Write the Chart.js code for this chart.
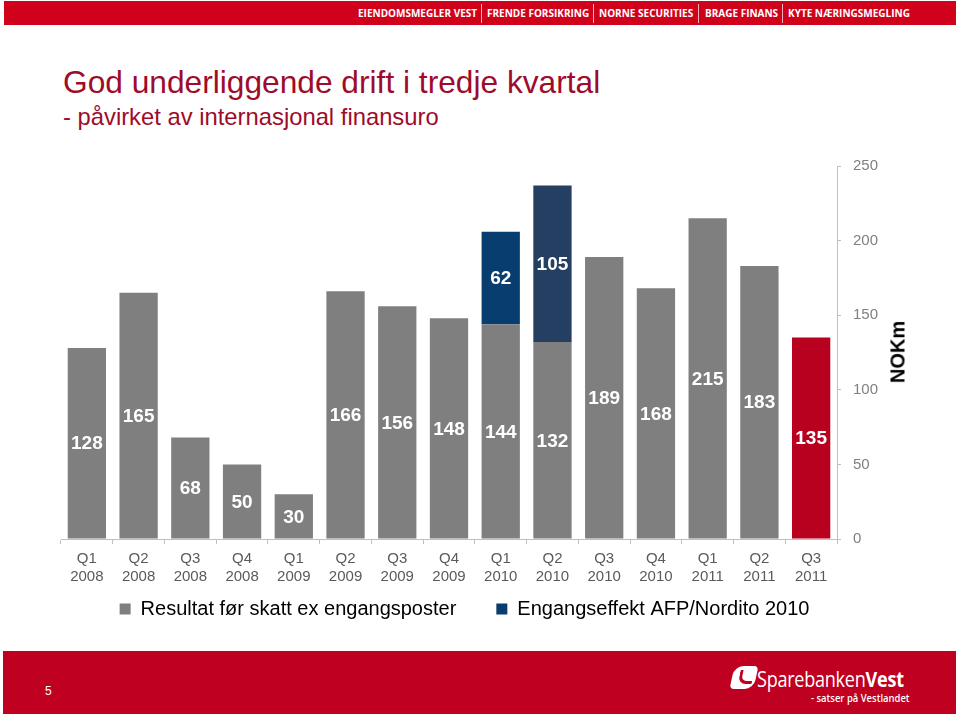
<!DOCTYPE html>
<html><head><meta charset="utf-8">
<script src="https://cdn.jsdelivr.net/npm/chart.js@4/dist/chart.umd.min.js"></script>
<style>
html,body{margin:0;padding:0;background:#fff;}
body{width:960px;height:716px;position:relative;overflow:hidden;font-family:Arial,"Liberation Sans",sans-serif;}
#header{position:absolute;left:4px;top:1px;width:952px;height:24px;background:#d0021b;}
.hd{position:absolute;top:0;height:24px;line-height:25px;color:#fff;font-weight:bold;font-size:10px;font-family:"Open Sans",Arial,sans-serif;white-space:nowrap;}
.sep{position:absolute;top:3px;width:1px;height:19px;background:#f3b0b8;}
#title{position:absolute;left:63px;top:64px;font-size:31.7px;line-height:36px;color:#9e0b2b;white-space:nowrap;}
#subtitle{position:absolute;left:63px;top:103px;font-size:23.8px;line-height:28px;color:#9e0b2b;white-space:nowrap;}
#chartbox{position:absolute;left:40px;top:145px;width:848px;height:514px;}
#nokm{position:absolute;left:898px;top:352px;font-weight:bold;font-size:20px;color:#000;transform:translate(-50%,-50%) rotate(-90deg);white-space:nowrap;}
#footer{position:absolute;left:3px;top:651px;width:953px;height:63px;background:#c00020;}
#pnum{position:absolute;left:42px;top:33px;color:#fff;font-size:12px;}
#logo{position:absolute;left:754px;top:16px;color:#fff;font-family:"Open Sans",Arial,sans-serif;font-size:21px;line-height:24px;white-space:nowrap;transform:scaleX(0.86);transform-origin:0 0;letter-spacing:-0.3px;}
#logo b{font-weight:bold;}
#slogan{position:absolute;left:808px;top:40px;color:#fff;font-family:"Open Sans",Arial,sans-serif;font-size:10.5px;font-weight:600;white-space:nowrap;transform:scaleX(0.9);transform-origin:0 0;}
#icon{position:absolute;left:729px;top:15px;width:24px;height:23px;background:#fff;border-radius:9px 4px 9px 4px;transform:skewX(-12deg);}
#icon:after{content:"";position:absolute;left:7px;top:4px;width:11px;height:11px;border-left:3px solid #c00020;border-bottom:3px solid #c00020;border-radius:0 0 0 8px;}
</style>
</head><body>
<div id="header">
  <div class="hd" style="left:354px">EIENDOMSMEGLER VEST</div>
  <div class="sep" style="left:477px"></div>
  <div class="hd" style="left:483px">FRENDE FORSIKRING</div>
  <div class="sep" style="left:589px"></div>
  <div class="hd" style="left:595px">NORNE SECURITIES</div>
  <div class="sep" style="left:694px"></div>
  <div class="hd" style="left:701px">BRAGE FINANS</div>
  <div class="sep" style="left:778px"></div>
  <div class="hd" style="left:784px">KYTE NÆRINGSMEGLING</div>
</div>
<div id="title">God underliggende drift i tredje kvartal</div>
<div id="subtitle">- påvirket av internasjonal finansuro</div>
<div id="chartbox"><canvas id="c" width="848" height="514"></canvas></div>
<div id="nokm">NOKm</div>
<div id="footer">
  <div id="pnum">5</div>
  <div id="icon"></div>
  <div id="logo">Sparebanken<b>Vest</b></div>
  <div id="slogan">- satser på Vestlandet</div>
</div>
<script>
const categories = [
  ['Q1','2008'],['Q2','2008'],['Q3','2008'],['Q4','2008'],
  ['Q1','2009'],['Q2','2009'],['Q3','2009'],['Q4','2009'],
  ['Q1','2010'],['Q2','2010'],['Q3','2010'],['Q4','2010'],
  ['Q1','2011'],['Q2','2011'],['Q3','2011']
];
const resultat = [128,165,68,50,30,166,156,148,144,132,189,168,215,183,135];
const engangseffekt = [null,null,null,null,null,null,null,null,62,105,null,null,null,null,null];
const seriesNames = ['Resultat før skatt ex engangsposter','Engangseffekt AFP/Nordito 2010'];
const yTicks = [0,50,100,150,200,250];

const GRAY = '#7f7f7f', RED = '#b8001f', NAVY = '#083d6f', NAVY2 = '#243f62';

const valueLabels = {
  id:'valueLabels',
  afterDatasetsDraw(chart){
    const ctx = chart.ctx;
    ctx.save();
    ctx.font = 'bold 19px Arial, "Liberation Sans", sans-serif';
    ctx.fillStyle = '#fff';
    ctx.textAlign = 'center';
    ctx.textBaseline = 'middle';
    chart.data.datasets.forEach((ds,i)=>{
      const meta = chart.getDatasetMeta(i);
      meta.data.forEach((el,j)=>{
        const v = ds.data[j];
        if (v == null) return;
        const p = el.getProps(['x','y','base'], true);
        ctx.fillText(String(v), p.x, (p.y + p.base)/2 + 1);
      });
    });
    ctx.restore();
  }
};

// move legend row up so it sits just under the two-line category labels
const legendPlace = {
  id:'legendPlace',
  afterLayout(chart){
    const lg = chart.legend;
    if (!lg) return;
    const targetTop = chart.scales.x.bottom - 30;
    const dy = targetTop - lg.top;
    lg.top += dy; lg.bottom += dy;
    lg.left -= 10; lg.right -= 10;
  }
};

new Chart(document.getElementById('c'), {
  type:'bar',
  data:{
    labels: categories,
    datasets:[
      {label: seriesNames[0], data: resultat,
       backgroundColor: (c)=> (c.dataIndex === resultat.length-1 ? RED : GRAY),
       categoryPercentage:1, barPercentage:0.74},
      {label: seriesNames[1], data: engangseffekt,
       backgroundColor: (c)=> (c.dataIndex === 9 ? NAVY2 : NAVY),
       categoryPercentage:1, barPercentage:0.74}
    ]
  },
  options:{
    responsive:false,
    animation:false,
    devicePixelRatio:1,
    layout:{padding:{left:21,top:12,right:0,bottom:0}},
    plugins:{
      legend:{
        position:'bottom',
        labels:{
          boxWidth:11, boxHeight:11, color:'#000', padding:40,
          font:{family:'Arial, "Liberation Sans", sans-serif', size:20},
          generateLabels:(chart)=> chart.data.datasets.map((ds,i)=>({
            text: ds.label, fillStyle: i===0?GRAY:NAVY, strokeStyle: i===0?GRAY:NAVY,
            lineWidth:0, hidden:false, datasetIndex:i
          }))
        }
      },
      tooltip:{enabled:false}
    },
    scales:{
      x:{
        stacked:true,
        afterFit:(s)=>{ s.height = 50; },
        grid:{offset:true, drawOnChartArea:false, tickLength:5, color:'#bfbfbf'},
        border:{color:'#bfbfbf'},
        ticks:{color:'#5a5a5a', font:{family:'Arial, "Liberation Sans", sans-serif', size:15, lineHeight:1.2}, maxRotation:0, autoSkip:false, padding:6}
      },
      y:{
        stacked:true, position:'right', min:0, max:250,
        afterBuildTicks:(s)=>{ s.ticks = yTicks.map(v=>({value:v})); },
        afterFit:(s)=>{ s.width = 51; },
        grid:{drawOnChartArea:false, tickLength:4, color:'#c0c0c0'},
        border:{color:'#c0c0c0'},
        ticks:{color:'#808080', font:{family:'Arial, "Liberation Sans", sans-serif', size:15}, padding:12}
      }
    }
  },
  plugins:[valueLabels, legendPlace]
});
</script>
</body></html>
